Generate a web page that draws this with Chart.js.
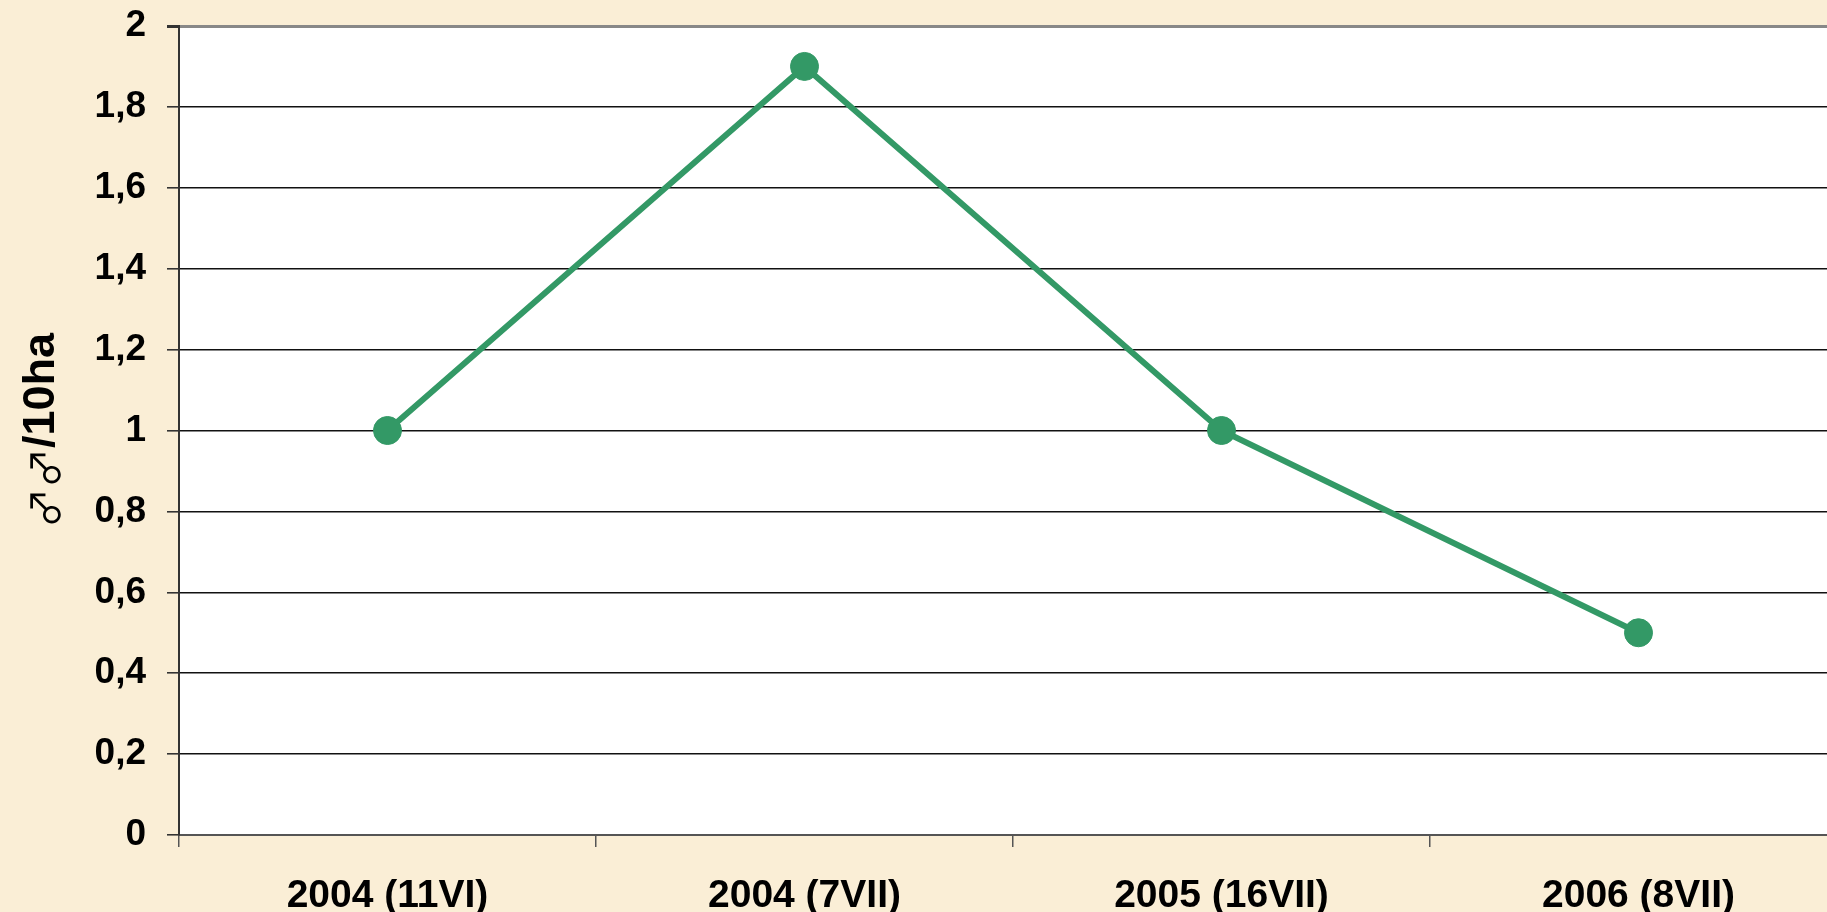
<!DOCTYPE html>
<html>
<head>
<meta charset="utf-8">
<script src="https://cdn.jsdelivr.net/npm/chart.js@4.4.1/dist/chart.umd.min.js"></script>
<style>
  html, body { margin: 0; padding: 0; overflow: hidden; background: #FAEED6; }
  #wrap { position: relative; width: 1847px; height: 912px; }
</style>
</head>
<body>
<div id="wrap"><canvas id="c" width="1847" height="912"></canvas></div>
<script>
const categories = ['2004 (11VI)', '2004 (7VII)', '2005 (16VII)', '2006 (8VII)'];
const values = [1, 1.9, 1, 0.5];
const yTickLabels = ['0', '0,2', '0,4', '0,6', '0,8', '1', '1,2', '1,4', '1,6', '1,8', '2'];
const yTitleSymbol = '\u2642\u2642';
const yTitleText = '/10ha';

const FONT = "'Liberation Sans', Arial, sans-serif";

const plotBg = {
  id: 'plotBg',
  beforeDraw(chart) {
    const { ctx, chartArea } = chart;
    ctx.save();
    ctx.fillStyle = '#ffffff';
    ctx.fillRect(chartArea.left, chartArea.top, chart.width - chartArea.left, chartArea.bottom - chartArea.top);
    ctx.restore();
  }
};

const yTitlePlugin = {
  id: 'yTitle',
  afterDraw(chart) {
    const { ctx, chartArea } = chart;
    const symFont = "normal 40px 'Noto Sans CJK JP', 'DejaVu Sans', sans-serif";
    const txtFont = "bold 45px " + FONT;
    ctx.save();
    ctx.font = symFont;
    const w1 = ctx.measureText(yTitleSymbol).width;
    ctx.font = txtFont;
    const w2 = ctx.measureText(yTitleText).width;
    const total = w1 + w2;
    const cy = (chartArea.top + chartArea.bottom) / 2;
    ctx.translate(42, cy);
    ctx.rotate(-Math.PI / 2);
    ctx.fillStyle = '#000000';
    ctx.textBaseline = 'middle';
    ctx.textAlign = 'left';
    ctx.font = symFont;
    ctx.fillText(yTitleSymbol, -total / 2, 3);
    ctx.font = txtFont;
    ctx.fillText(yTitleText, -total / 2 + w1, 0);
    ctx.restore();
  }
};

new Chart(document.getElementById('c'), {
  type: 'line',
  data: {
    labels: categories,
    datasets: [{
      data: values,
      borderColor: '#339966',
      backgroundColor: '#339966',
      borderWidth: 6,
      pointRadius: 14,
      pointBorderWidth: 1,
      pointBorderColor: '#339966',
      pointBackgroundColor: '#339966',
      tension: 0,
      fill: false
    }]
  },
  options: {
    responsive: false,
    animation: false,
    events: [],
    layout: { autoPadding: false, padding: { top: 26, right: 0, bottom: 0, left: 0 } },
    plugins: { legend: { display: false }, tooltip: { enabled: false } },
    scales: {
      x: {
        offset: true,
        afterFit(scale) { scale.height = 77; scale.paddingLeft = 0; scale.paddingRight = 0; },
        grid: {
          offset: true,
          drawOnChartArea: false,
          drawTicks: true,
          tickLength: 12,
          color: '#555555',
          lineWidth: 1.5
        },
        border: { display: true, color: '#555555', width: 2 },
        ticks: {
          color: '#000000',
          padding: 26,
          maxRotation: 0,
          autoSkip: false,
          font: { family: FONT, size: 39, weight: 'bold', lineHeight: 1.2 }
        }
      },
      y: {
        min: 0,
        max: 2,
        afterFit(scale) { scale.width = 179; scale.paddingTop = 0; scale.paddingBottom = 0; },
        afterBuildTicks(scale) {
          scale.ticks = yTickLabels.map((_, i) => ({ value: i * 0.2 }));
        },
        grid: {
          drawTicks: true,
          tickLength: 12,
          color: (ctx) => {
            if (!ctx.tick) return '#111111';
            if (Math.abs(ctx.tick.value - 2) < 1e-6) return '#888888';
            if (Math.abs(ctx.tick.value) < 1e-6) return 'rgba(0,0,0,0)';
            return '#111111';
          },
          lineWidth: (ctx) => (ctx.tick && Math.abs(ctx.tick.value - 2) < 1e-6) ? 3 : 1.6,
          tickColor: '#333333'
        },
        border: { display: true, color: '#333333', width: 2 },
        ticks: {
          color: '#000000',
          padding: 21,
          font: { family: FONT, size: 37, weight: 'bold', lineHeight: 1.2 },
          callback: (value, index) => yTickLabels[index]
        },
        title: { display: false }
      }
    }
  },
  plugins: [plotBg, yTitlePlugin]
});
</script>
</body>
</html>
